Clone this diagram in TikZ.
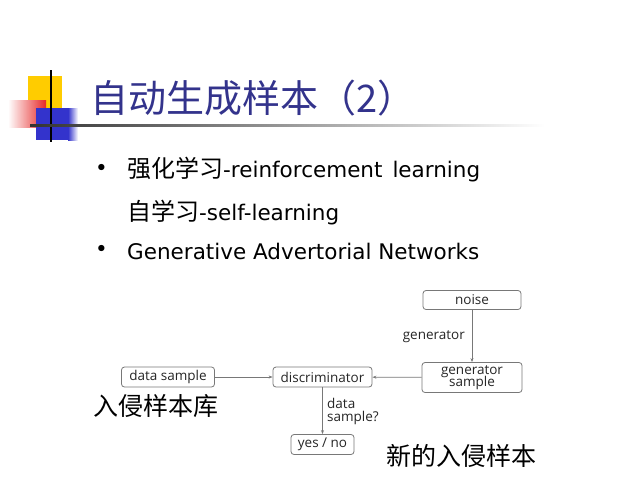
\documentclass[tikz,border=0pt]{standalone}
\usepackage{fontspec}
\setmainfont{DejaVu Sans}
\newfontfamily\cjk{Noto Sans CJK SC}
\newfontfamily\boxfont{Open Sans}
\definecolor{titleblue}{RGB}{51,51,140}
\definecolor{decoyellow}{RGB}{255,204,0}
\definecolor{decoblue}{RGB}{51,51,204}
\definecolor{decored}{RGB}{230,40,40}
\definecolor{boxgray}{RGB}{120,120,120}
\usetikzlibrary{arrows.meta}
\tikzset{
  gbox/.style={draw=boxgray, rounded corners=3pt, line width=0.8pt, inner sep=0pt, font=\boxfont\fontsize{13.5}{14}\selectfont, align=center, text=black!85},
  conn/.style={draw=boxgray, line width=0.7pt, -{Stealth[length=4pt,width=3pt]}},
  lbl/.style={font=\boxfont\fontsize{13.5}{14}\selectfont, text=black!85, align=left, inner sep=0pt},
  bodytext/.style={anchor=west, inner sep=0pt, font=\fontsize{21.5}{24}\selectfont},
  cjklbl/.style={inner sep=0pt, font=\cjk\fontsize{25}{27}\selectfont}
}
\begin{document}
\begin{tikzpicture}[x=1pt,y=-1pt]
\fill[white] (0,0) rectangle (640,480);
\useasboundingbox (0,0) rectangle (640,480);
% decoration
\fill[decoyellow] (28,76) rectangle (62,108);
\shade[left color=white, right color=decored] (8,100) rectangle (46,127);
\fill[decoblue] (36,108) rectangle (70,140);
\shade[left color=decoblue, right color=white] (68,108) rectangle (78,140);
\draw[black, line width=1.2pt] (51,70) -- (51,142);
\shade[left color=black!80, right color=white] (30,124.5) rectangle (545,126);
% title
\node[anchor=west, inner sep=0pt, text=titleblue, font=\cjk\fontsize{38}{40}\selectfont] (title) at (90,98) {自动生成样本（2）};
% bullets
\node[bodytext] (b1) at (95,170) {•};
\node[bodytext] (t1) at (127,170) {{\cjk\fontsize{24}{26}\selectfont 强化学习}-reinforcement\hspace{10pt}learning};
\node[bodytext] (t2) at (127,213) {{\cjk\fontsize{24}{26}\selectfont 自学习}-self-learning};
\node[bodytext] (b2) at (95,251) {•};
\node[bodytext] (t3) at (127,251) {Generative\ Advertorial\ Networks};
% diagram
\node[gbox, minimum width=98pt, minimum height=19pt] (noise) at (472,300) {noise};
\node[gbox, minimum width=100pt, minimum height=30pt] (gs) at (472,377.5) {generator\\[-2pt]sample};
\node[gbox, minimum width=99pt, minimum height=20pt] (disc) at (322.5,377) {discriminator};
\node[gbox, minimum width=93pt, minimum height=20pt] (ds) at (168,377) {data sample};
\node[gbox, minimum width=63pt, minimum height=20pt] (yn) at (322.5,444.5) {yes / no};
\draw[conn] (noise) -- (gs);
\draw[conn] (ds) -- (disc);
\draw[conn] (gs) -- (disc);
\draw[conn] (disc) -- (yn);
\node[lbl, anchor=east] (glbl) at (465,337) {generator};
\node[lbl, anchor=west] (dlbl) at (327,411) {data\\[-1pt]sample?};
\node[cjklbl] (c1) at (156,406) {入侵样本库};
\node[cjklbl] (c2) at (461,456) {新的入侵样本};
\end{tikzpicture}
\end{document}
